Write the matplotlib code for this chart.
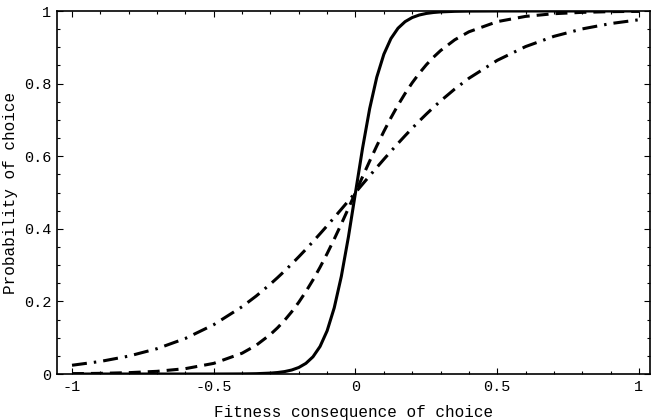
import matplotlib
matplotlib.use('Agg')
from matplotlib import pyplot as plt
from matplotlib.ticker import MultipleLocator

# fitness consequence (x) and probability of choice
x_vals = [-1.0, -0.9, -0.8, -0.7, -0.6, -0.5, -0.4, -0.35, -0.3, -0.275, -0.25, -0.225, -0.2,
          -0.175, -0.15, -0.125, -0.1, -0.075, -0.05, -0.025, 0.0,
          0.025, 0.05, 0.075, 0.1, 0.125, 0.15, 0.175, 0.2,
          0.225, 0.25, 0.275, 0.3, 0.35, 0.4, 0.5, 0.6, 0.7, 0.8, 0.9, 1.0]

solid = [0.0, 0.0, 0.0, 0.0, 0.0, 0.0, 0.0003, 0.0009, 0.0025, 0.0041, 0.0067, 0.0110, 0.0180,
         0.0293, 0.0474, 0.0759, 0.1192, 0.1824, 0.2689, 0.3775, 0.5,
         0.6225, 0.7311, 0.8176, 0.8808, 0.9241, 0.9526, 0.9707, 0.9820,
         0.9890, 0.9933, 0.9959, 0.9975, 0.9991, 0.9997, 1.0, 1.0, 1.0, 1.0, 1.0, 1.0]

dashed = [0.0009, 0.0018, 0.0037, 0.0074, 0.0148, 0.0293, 0.0573, 0.0794, 0.1091, 0.1273, 0.1480, 0.1715, 0.1978,
          0.2271, 0.2592, 0.2942, 0.3318, 0.3717, 0.4134, 0.4564, 0.5,
          0.5436, 0.5866, 0.6283, 0.6682, 0.7058, 0.7408, 0.7729, 0.8022,
          0.8285, 0.8520, 0.8727, 0.8909, 0.9206, 0.9427, 0.9707, 0.9852, 0.9926, 0.9963, 0.9982, 0.9991]

dashdot = [0.0241, 0.0346, 0.0493, 0.0698, 0.0980, 0.1359, 0.1854, 0.2150, 0.2479, 0.2655, 0.2839, 0.3031, 0.3230,
           0.3435, 0.3647, 0.3864, 0.4085, 0.4311, 0.4539, 0.4769, 0.5,
           0.5231, 0.5461, 0.5689, 0.5915, 0.6136, 0.6353, 0.6565, 0.6770,
           0.6969, 0.7161, 0.7345, 0.7521, 0.7850, 0.8146, 0.8641, 0.9020, 0.9302, 0.9507, 0.9654, 0.9759]

x_ticks = [-1, -0.5, 0, 0.5, 1]
x_ticklabels = ['-1', '-0.5', '0', '0.5', '1']
y_ticks = [0, 0.2, 0.4, 0.6, 0.8, 1]
y_ticklabels = ['0', '0.2', '0.4', '0.6', '0.8', '1']

font = 'Liberation Mono'

fig = plt.figure(dpi=100, figsize=(6.52, 4.2))
ax = fig.add_axes([0.0874, 0.1095, 0.9096, 0.8643])

ax.plot(x_vals, solid, c='black', lw=2.2, solid_capstyle='butt')
ax.plot(x_vals, dashed, c='black', lw=2.2, dashes=(3.9, 2.3), dash_capstyle='butt')
ax.plot(x_vals, dashdot, c='black', lw=2.2, dashes=(4.9, 2.3, 0.8, 2.3), dash_capstyle='butt')

ax.set_xlim(-1.053, 1.039)
ax.set_ylim(0, 1)

ax.set_xticks(x_ticks)
ax.set_xticklabels(x_ticklabels, fontfamily=font, fontsize=11)
ax.set_yticks(y_ticks)
ax.set_yticklabels(y_ticklabels, fontfamily=font, fontsize=11)
ax.xaxis.set_minor_locator(MultipleLocator(0.1))
ax.yaxis.set_minor_locator(MultipleLocator(0.05))

ax.tick_params(which='both', direction='in', top=True, right=True, width=0.8)
ax.tick_params(which='major', length=4, pad=4)
ax.tick_params(which='minor', length=2)
for sp in ax.spines.values():
    sp.set_linewidth(1.2)

ax.set_xlabel('Fitness consequence of choice', fontfamily=font, fontsize=11.5, labelpad=8)
ax.set_ylabel('Probability of choice', fontfamily=font, fontsize=11.5, labelpad=4)

plt.savefig('out.png', dpi=100)
